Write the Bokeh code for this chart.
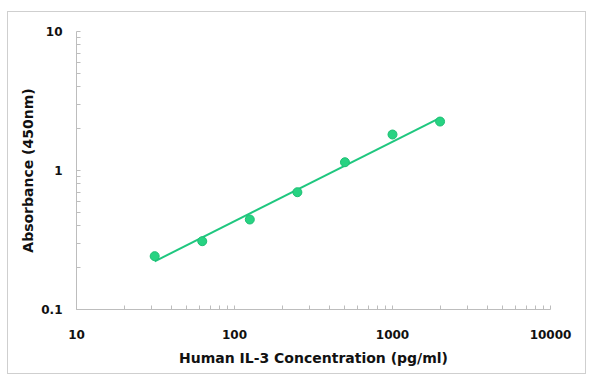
from bokeh.plotting import figure
from bokeh.embed import file_html
from bokeh.resources import INLINE
from bokeh.models import FixedTicker

# Data
conc = [31.25, 62.5, 125, 250, 500, 1000, 2000]
absorbance = [0.242, 0.310, 0.444, 0.698, 1.147, 1.815, 2.25]
fit_x = [31.25, 2000]
fit_y = [0.222, 2.39]
x_ticks = [10, 100, 1000, 10000]
y_ticks = [0.1, 1, 10]

FONT = "DejaVu Sans"
p = figure(
    x_axis_type="log", y_axis_type="log",
    x_range=(10, 10000), y_range=(0.1, 10),
    frame_width=474, frame_height=278,
    min_border_left=68, min_border_right=35, min_border_top=19, min_border_bottom=64,
    output_backend="svg", toolbar_location=None,
)
p.margin = (11, 0, 0, 7)
p.styles = {"border": "1px solid #cfcfcf"}
p.outline_line_color = None
p.xgrid.visible = False
p.ygrid.visible = False

for ax in (p.xaxis[0], p.yaxis[0]):
    ax.axis_line_color = "#bdbdbd"
    ax.major_tick_line_color = "#bdbdbd"
    ax.minor_tick_line_color = "#bdbdbd"
    ax.major_tick_in = 4
    ax.major_tick_out = 0
    ax.minor_tick_in = 4
    ax.minor_tick_out = 0
    ax.major_label_text_font = FONT
    ax.major_label_text_font_style = "bold"
    ax.major_label_text_font_size = "12px"
    ax.major_label_text_color = "#111111"
    ax.axis_label_text_font = FONT
    ax.axis_label_text_font_style = "bold"
    ax.axis_label_text_font_size = "14px"
    ax.axis_label_text_color = "#111111"

p.xaxis.ticker = FixedTicker(ticks=x_ticks, minor_ticks=[v * k for v in [10, 100, 1000] for k in range(2, 10)])
p.yaxis.ticker = FixedTicker(ticks=y_ticks, minor_ticks=[v * k for v in [0.1, 1] for k in range(2, 10)])
p.xaxis.major_label_overrides = {10: "10", 100: "100", 1000: "1000", 10000: "10000"}
p.yaxis.major_label_overrides = {0.1: "0.1", 1: "1", 10: "10"}
p.xaxis.axis_label = "Human IL-3 Concentration (pg/ml)"
p.yaxis.axis_label = "Absorbance (450nm)"
p.xaxis.major_label_standoff = 20
p.xaxis.axis_label_standoff = 8
p.yaxis.major_label_standoff = 14
p.yaxis.axis_label_standoff = 2

p.line(fit_x, fit_y, line_color="#1fc77f", line_width=2)
p.scatter(conc, absorbance, size=9, fill_color="#27d382", line_color="#1fbf75", line_width=1)

open("out.html", "w").write(file_html(p, INLINE))
